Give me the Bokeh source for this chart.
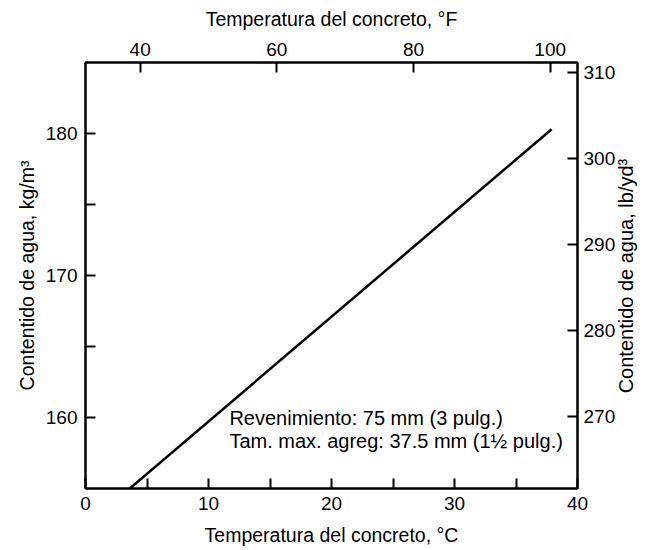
import math
from bokeh.plotting import figure
from bokeh.models import Range1d, LinearAxis, FixedTicker, Label
from bokeh.embed import file_html
from bokeh.resources import INLINE

# Data
temp_c = [3.6, 37.9]
water_kg = [155.0, 180.3]

x_ticks_c = [0, 10, 20, 30, 40]
x_minor_c = [5, 15, 25, 35]
y_ticks_kg = [160, 170, 180]
y_minor_kg = [165, 175]
top_ticks_f = [40, 60, 80, 100]
right_ticks_lb = [270, 280, 290, 300, 310]

x_range_c = (0, 40)
y_range_kg = (155, 185)
x_range_f = (32, 104)
y_range_lb = (261.6, 311.2)

note_lines = ["Revenimiento: 75 mm (3 pulg.)",
              "Tam. max. agreg: 37.5 mm (1½ pulg.)"]
note_x = 11.7
note_y = [160.0, 158.35]

right_title = "Contentido de agua, lb/yd³"
right_title_start = 161.7   # where the upward-reading title begins (kg/m³ scale)

FONT = "Liberation Sans"
FS = "19px"
FT = "19.5px"

p = figure(width=654, height=550, output_backend="svg", toolbar_location=None,
           x_range=Range1d(*x_range_c), y_range=Range1d(*y_range_kg),
           x_axis_location=None, y_axis_location=None,
           min_border_left=85, min_border_right=77, min_border_top=62, min_border_bottom=62)
p.extra_x_ranges = {"F": Range1d(*x_range_f)}
p.extra_y_ranges = {"LB": Range1d(*y_range_lb)}

p.grid.visible = False
p.outline_line_color = "black"
p.outline_line_width = 2
p.background_fill_color = "white"
p.border_fill_color = "white"

def style(ax, label):
    if label:
        ax.axis_label = label
    ax.axis_label_text_font = FONT
    ax.axis_label_text_font_size = FT
    ax.axis_label_text_font_style = "normal"
    ax.axis_label_text_color = "black"
    ax.major_label_text_font = FONT
    ax.major_label_text_font_size = FS
    ax.major_label_text_color = "black"
    ax.axis_line_color = "black"
    ax.axis_line_width = 2
    ax.major_tick_in = 10
    ax.major_tick_out = 0
    ax.minor_tick_in = 10
    ax.minor_tick_out = 0
    ax.major_tick_line_width = 2
    ax.minor_tick_line_width = 2
    ax.major_tick_line_color = "black"
    ax.minor_tick_line_color = "black"

bottom = LinearAxis(ticker=FixedTicker(ticks=x_ticks_c, minor_ticks=x_minor_c))
style(bottom, "Temperatura del concreto, °C")
bottom.major_label_standoff = 8
bottom.axis_label_standoff = 11
p.add_layout(bottom, "below")

left = LinearAxis(ticker=FixedTicker(ticks=y_ticks_kg, minor_ticks=y_minor_kg))
style(left, "Contentido de agua, kg/m³")
left.major_label_standoff = 8
left.axis_label_standoff = 5
p.add_layout(left, "left")

top = LinearAxis(x_range_name="F", ticker=FixedTicker(ticks=top_ticks_f, minor_ticks=[]))
style(top, "Temperatura del concreto, °F")
top.major_label_standoff = 7
top.axis_label_standoff = 10
p.add_layout(top, "above")

right = LinearAxis(y_range_name="LB", ticker=FixedTicker(ticks=right_ticks_lb, minor_ticks=[]))
style(right, None)
right.major_label_standoff = 6
p.add_layout(right, "right")

# right-hand title reading bottom-to-top, drawn as the single label of a bare axis
title_axis = LinearAxis(ticker=FixedTicker(ticks=[right_title_start], minor_ticks=[]),
                        major_label_overrides={right_title_start: right_title})
title_axis.axis_line_color = None
title_axis.major_tick_line_color = None
title_axis.minor_tick_line_color = None
title_axis.major_tick_in = 0
title_axis.major_tick_out = 0
title_axis.major_label_standoff = 8
title_axis.major_label_orientation = math.pi / 2
title_axis.major_label_text_font = FONT
title_axis.major_label_text_font_size = "20px"
title_axis.major_label_text_color = "black"
p.add_layout(title_axis, "right")

p.line(temp_c, water_kg, line_color="black", line_width=2.5)

for t, yy in zip(note_lines, note_y):
    p.add_layout(Label(x=note_x, y=yy, text=t, text_font=FONT, text_font_size="20px",
                       text_color="black", text_baseline="middle"))

open("out.html", "w").write(file_html(p, INLINE))
